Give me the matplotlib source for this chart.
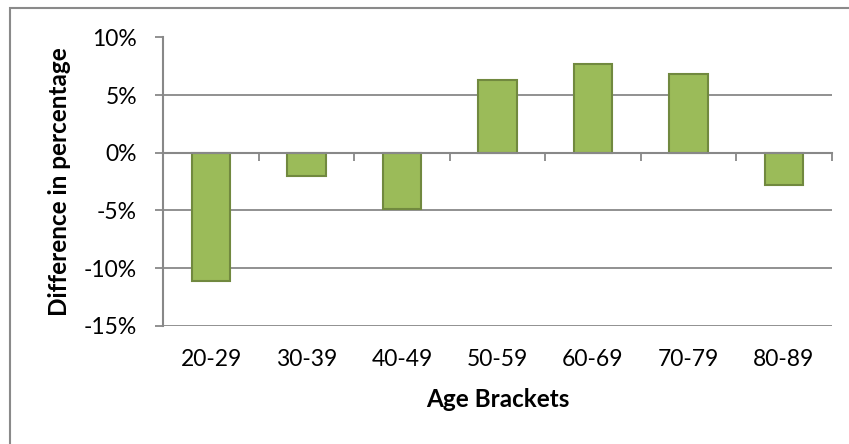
import matplotlib
matplotlib.use("Agg")
import matplotlib.pyplot as plt
from matplotlib.patches import Rectangle
from matplotlib.ticker import FuncFormatter, FixedLocator
import numpy as np

# Difference in percentage per age bracket
age_brackets = ["20-29", "30-39", "40-49", "50-59", "60-69", "70-79", "80-89"]
difference_pct = [-11.1, -2.0, -4.9, 6.3, 7.7, 6.8, -2.8]
y_ticks = [-15, -10, -5, 0, 5, 10]

FONT = "Lato"
GRAY = "#888888"
BAR_FILL = "#9BBB59"
BAR_EDGE = "#71893F"

W, H = 849, 444
fig = plt.figure(figsize=(W / 100, H / 100), dpi=100)
fig.patch.set_facecolor("white")

# chart frame (extends past the right and bottom edges)
fig.add_artist(Rectangle((10 / W, -0.5), 2.0, 1.5 - 8 / H, transform=fig.transFigure,
                         fill=False, edgecolor="#8a8a8a", linewidth=1.5))

left, right, top, bottom = 163.3, 831.7, 37.5, 325.7
ax = fig.add_axes([left / W, 1 - bottom / H, (right - left) / W, (bottom - top) / H])

x = np.arange(len(age_brackets))
ax.bar(x, difference_pct, width=0.4, color=BAR_FILL, edgecolor=BAR_EDGE,
       linewidth=1.5, zorder=3)

ax.set_xlim(-0.5, len(age_brackets) - 0.5)
ax.set_ylim(min(y_ticks), max(y_ticks))

# horizontal gridlines
ax.set_yticks(y_ticks)
ax.yaxis.set_major_formatter(FuncFormatter(lambda v, p: f"{int(v)}%"))
ax.grid(axis="y", color=GRAY, linewidth=1.3, zorder=0)
ax.tick_params(axis="y", direction="out", length=6, width=1.3, color=GRAY,
               pad=13, labelsize=16.5)
for lab in ax.get_yticklabels():
    lab.set_fontfamily(FONT)

# spines: only the vertical axis and the horizontal axis at zero
for s in ["top", "right"]:
    ax.spines[s].set_visible(False)
ax.spines["left"].set_color(GRAY)
ax.spines["left"].set_linewidth(1.5)
ax.spines["bottom"].set_position(("data", 0))
ax.spines["bottom"].set_color(GRAY)
ax.spines["bottom"].set_linewidth(1.5)
ax.spines["bottom"].set_zorder(4)

# category boundary ticks on the zero line
ax.xaxis.set_major_locator(FixedLocator(np.arange(-0.5, len(age_brackets), 1.0)))
ax.xaxis.set_major_formatter(FuncFormatter(lambda v, p: ""))
ax.tick_params(axis="x", direction="out", length=6, width=1.3, color=GRAY)

# category labels below the plot area
sec = ax.secondary_xaxis("bottom")
sec.set_xticks(x)
sec.set_xticklabels(age_brackets, fontfamily=FONT, fontsize=16.5)
sec.tick_params(length=0, pad=17)
sec.spines["bottom"].set_visible(False)
sec.set_xlabel("Age Brackets", fontfamily=FONT, fontsize=17.5, fontweight="bold",
               labelpad=13)

ax.set_ylabel("Difference in percentage", fontfamily=FONT, fontsize=17.5,
              fontweight="bold", labelpad=9)

fig.savefig("out.png", dpi=100, facecolor="white")
